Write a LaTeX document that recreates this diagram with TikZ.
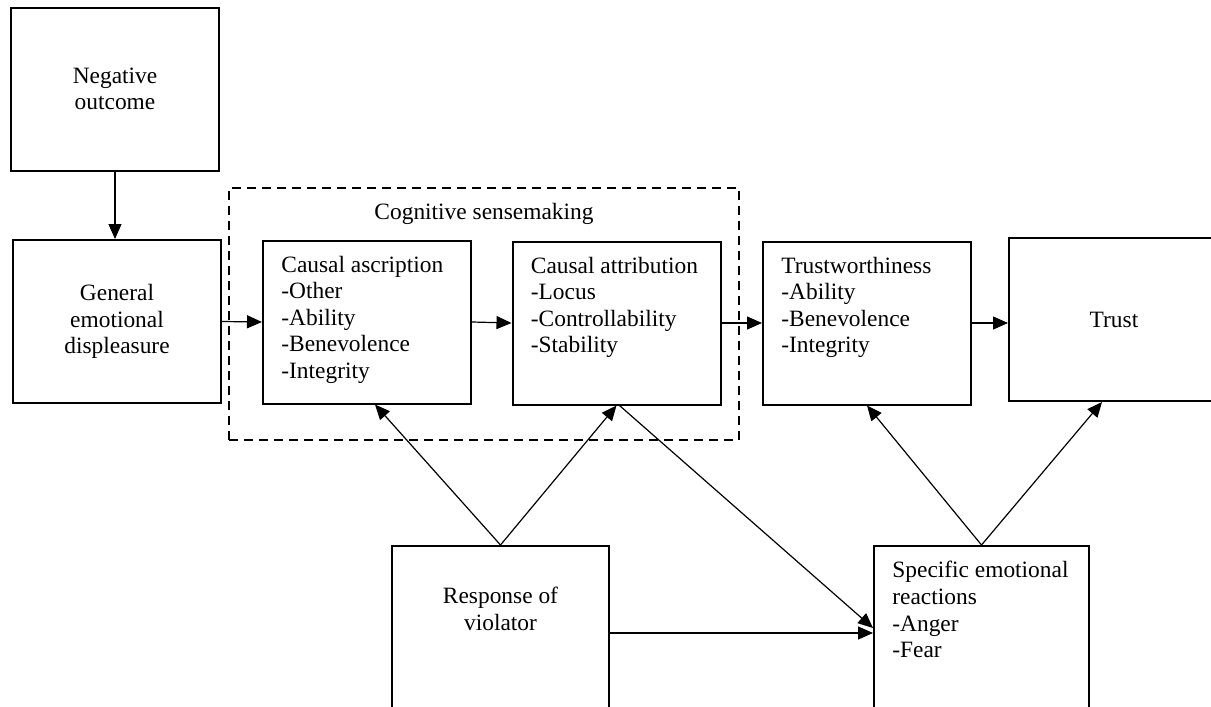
\documentclass[tikz,border=0pt]{standalone}
\usepackage{fontspec}
\setmainfont{Liberation Serif}
\usetikzlibrary{arrows.meta,positioning,calc}

\begin{document}
\begin{tikzpicture}[x=0.5pt,y=-0.5pt,>={Triangle[length=7.5pt,width=6.5pt]},
font=\fontsize{11.7pt}{13.3pt}\selectfont,
box/.style={draw,line width=1pt,minimum width=104pt,minimum height=81.5pt,inner sep=0pt,align=center},
group/.style={draw,line width=1pt,dash pattern=on 4.5pt off 3pt,minimum width=255pt,minimum height=126pt},
txt/.style={inner sep=0pt,align=left},
link/.style={->,line width=.6pt}]
\useasboundingbox (0,0) rectangle (1211,707);

\node[box] (neg) at (115,89) {Negative\\outcome};
\node[box] (ged) at (117,321.5) {General\\emotional\\displeasure};

\node[group] (cog) at (484,314) {};
\node[txt,below=8pt of cog.north] (coglbl) {Cognitive sensemaking};

\node[box] (casc) at (367,322) {};
\node[txt,below right=8pt and 9.5pt of casc.north west] (casctxt) {Causal ascription\\-Other\\-Ability\\-Benevolence\\-Integrity};
\node[box] (cattr) at (616.5,323) {};
\node[txt,below right=8pt and 9.5pt of cattr.north west] (cattrtxt) {Causal attribution\\-Locus\\-Controllability\\-Stability};
\node[box] (tw) at (867,323) {};
\node[txt,below right=8pt and 9.5pt of tw.north west] (twtxt) {Trustworthiness\\-Ability\\-Benevolence\\-Integrity};
\node[box,minimum width=105pt] (trust) at (1114,319.5) {Trust};

\node[box,minimum width=108.5pt,minimum height=87pt] (resp) at (500.5,633) {};
\node[txt,align=center,below=21pt of resp.north] (resptxt) {Response of\\violator};
\node[box,minimum width=107.5pt,minimum height=87pt] (emo) at (981.5,633) {};
\node[txt,below right=8pt and 9.5pt of emo.north west] (emotxt) {Specific emotional\\reactions\\-Anger\\-Fear};

\draw[link] (neg.south) -- (neg.south |- ged.north);
\draw[link] (ged.east) -- (casc.west);
\draw[link] (casc.east) -- (cattr.west);
\draw[link] (cattr.east) -- (tw.west);
\draw[link] (tw.east) -- (tw.east -| trust.west);
\draw[link] (resp.north) -- ($(casc.south)+(4pt,0)$);
\draw[link] (resp.north) -- (cattr.south);
\draw[link] ($(cattr.south)+(1.5pt,0)$) -- ($(emo.west)+(0,2.5pt)$);
\draw[link] (resp.east) -- (emo.west);
\draw[link] (emo.north) -- (tw.south);
\draw[link] (emo.north) -- ($(trust.south)+(-6pt,0)$);
\end{tikzpicture}
\end{document}
